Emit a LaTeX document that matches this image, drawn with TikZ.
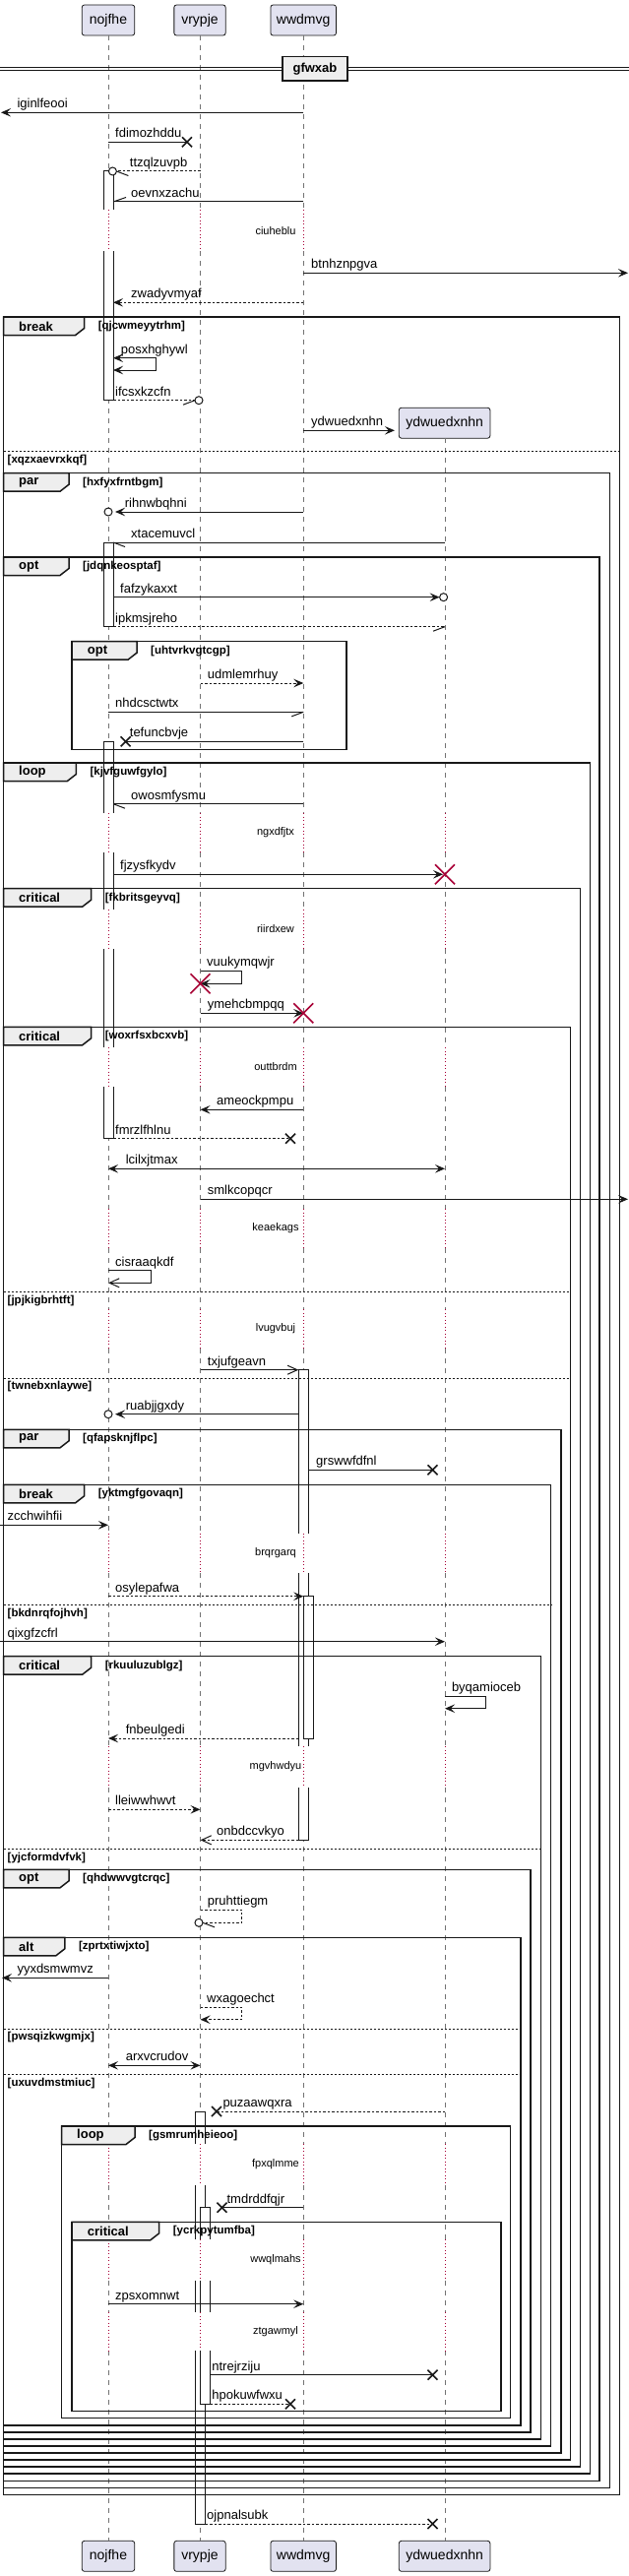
\documentclass[tikz,border=0pt]{standalone}
\usepackage{fontspec}
\setmainfont{Liberation Sans}
\usetikzlibrary{arrows.meta}
\definecolor{ln}{HTML}{181818}
\definecolor{pbg}{HTML}{E2E2F0}
\definecolor{tabbg}{HTML}{EEEEEE}
\definecolor{dly}{HTML}{A80036}
\newcommand\Msg[7]{%
  \coordinate (#1a) at (#2,#4);
  \coordinate (#1b) at (#3,#4);
  \draw[#5] (#1a) -- (#1b);
  \node[mt] (#1t) at (#6,#4-4.5) {#7};}
\newcommand\SMsg[8]{%
  \coordinate (#1a) at (#2,#4);
  \coordinate (#1b) at (#3,#4);
  \coordinate (#1c) at (#3,#5);
  \coordinate (#1d) at (#2,#5);
  \draw[#6] (#1a) -- (#1b) -- (#1c) -- (#1d);
  \node[mt] (#1t) at (#7,#4-4.5) {#8};}
\newcommand\LostX[2]{\draw[xm] (#1-5,#2-5) -- (#1+5,#2+5) (#1-5,#2+5) -- (#1+5,#2-5);}
\newcommand\DestX[2]{\draw[rx] (#1-10,#2-10) -- (#1+10,#2+10) (#1-10,#2+10) -- (#1+10,#2-10);}
\newcommand\Circ[2]{\draw[circ] (#1,#2) circle[radius=4pt];}
\newcommand\Half[4]{\draw[ml] (#1,#2) -- ++(#3,#4);}
\newcommand\Frm[8]{%
  \draw[fr] (#1,#2) rectangle (#3,#4);
  \draw[fr,fill=tabbg] (#1,#2) -- (#5,#2) -- (#5,#2+11.5) -- (#5-9,#2+18.5) -- (#1,#2+18.5) -- cycle;
  \node[kw] (#8k) at (#1+15.5,#2+9.5) {#6};
  \node[gd] (#8g) at (#5+14,#2+9.5) {#7};}
\newcommand\Els[5]{\draw[esep] (#1,#3) -- (#2,#3); \node[gd] (#5) at (#1+4,#3+9) {#4};}
\newcommand\BarC[4]{\draw[bar] (#1,#3) rectangle (#2,#4);}
\newcommand\BarT[4]{\fill[white] (#1,#3) rectangle (#2,#4); \draw[ln,line width=1pt] (#1,#4) -- (#1,#3) -- (#2,#3) -- (#2,#4);}
\newcommand\BarB[4]{\fill[white] (#1,#3) rectangle (#2,#4); \draw[ln,line width=1pt] (#1,#3) -- (#1,#4) -- (#2,#4) -- (#2,#3);}
\newcommand\BarO[4]{\fill[white] (#1,#3) rectangle (#2,#4); \draw[ln,line width=1pt] (#1,#3) -- (#1,#4) (#2,#3) -- (#2,#4);}
\begin{document}
\begin{tikzpicture}[x=1pt,y=-1pt,
  life/.style={draw=black!55, line width=0.8pt, dash pattern=on 5pt off 5pt},
  dlyl/.style={draw=dly, line width=0.9pt, dash pattern=on 0.9pt off 2.6pt},
  ml/.style={draw=ln, line width=1pt},
  dl/.style={draw=ln, line width=1pt, dash pattern=on 2.5pt off 2pt},
  fa/.style={-{Stealth[length=10pt,width=8.5pt,inset=4pt]}},
  ba/.style={{Stealth[length=10pt,width=8.5pt,inset=4pt]}-{Stealth[length=10pt,width=8.5pt,inset=4pt]}},
  oa/.style={-{Straight Barb[length=10pt,width=9pt]}},
  mt/.style={font=\fontsize{13}{15}\selectfont, inner sep=0pt, anchor=base west},
  dt/.style={font=\fontsize{11}{13}\selectfont, inner sep=0pt},
  gd/.style={font=\bfseries\fontsize{11.5}{13}\selectfont, inner sep=0pt, anchor=west},
  kw/.style={font=\bfseries\fontsize{13}{15}\selectfont, inner sep=0pt, anchor=west},
  fr/.style={draw=ln, line width=1.5pt},
  esep/.style={draw=ln, line width=1pt, dash pattern=on 2pt off 2pt},
  bar/.style={fill=white, draw=ln, line width=1pt},
  xm/.style={draw=ln, line width=1.6pt},
  rx/.style={draw=dly, line width=1.6pt},
  circ/.style={draw=ln, line width=1pt, fill=white},
  part/.style={draw=ln, line width=0.8pt, fill=pbg, rounded corners=2.5pt, minimum height=31pt, inner sep=0pt, font=\fontsize{14}{16}\selectfont},
]
\useasboundingbox[fill=white] (0,0) rectangle (639,2617);

% participants
\node[part, minimum width=53.5pt] (nojT) at (110,20.5) {nojfhe};
\node[part, minimum width=52.3pt] (vryT) at (203,20.5) {vrypje};
\node[part, minimum width=66.6pt] (wwdT) at (308.2,20.5) {wwdmvg};
\node[part, minimum width=53.5pt] (nojB) at (110,2596.8) {nojfhe};
\node[part, minimum width=52.3pt] (vryB) at (203,2596.8) {vrypje};
\node[part, minimum width=66.6pt] (wwdB) at (308.2,2596.8) {wwdmvg};
\node[part, minimum width=92.6pt] (ydwB) at (451.6,2596.8) {ydwuedxnhn};
\node[part, minimum width=92.6pt] (ydwC) at (451.6,429.7) {ydwuedxnhn};

% lifelines
\foreach \lx in {110,203.5,308.3} {
  \foreach \a/\b in {36/213,255/826,866/924,964/1064,1104/1228,1268/1330,1370/1557.7,1598.3/1774,1816/2178,2220/2275,2316.7/2349,2388.3/2581}
    \draw[life] (\lx,\a) -- (\lx,\b);
  \foreach \a/\b in {213/255,826/866,924/964,1064/1104,1228/1268,1330/1370,1557.7/1598.3,1774/1816,2178/2220,2275/2316.7,2349/2388.3}
    \draw[dlyl] (\lx,\a) -- (\lx,\b);
}
\foreach \a/\b in {445/826,866/924,964/1064,1104/1228,1268/1330,1370/1557.7,1598.3/1774,1816/2178,2220/2275,2316.7/2349,2388.3/2581}
  \draw[life] (452,\a) -- (452,\b);
\foreach \a/\b in {826/866,924/964,1064/1104,1228/1268,1330/1370,1557.7/1598.3,1774/1816,2178/2220,2275/2316.7,2349/2388.3}
  \draw[dlyl] (452,\a) -- (452,\b);

% divider
\draw[ln, line width=1pt] (0,68.3) -- (639,68.3) (0,71.7) -- (639,71.7);
\node[draw=ln, line width=1.8pt, fill=tabbg, minimum width=66pt, minimum height=24.5pt, inner sep=0pt, font=\bfseries\fontsize{13}{15}\selectfont] (div) at (320,69.7) {gfwxab};

% activation bars
\BarT{105}{115}{174}{213}
\BarB{105}{115}{255}{406.7}
\BarC{105}{115}{551}{636.7}
\BarT{105}{115}{753.3}{826}
\BarO{105}{115}{866}{924}
\BarO{105}{115}{964}{1064}
\BarB{105}{115}{1104}{1156.7}
\BarT{303.3}{313.3}{1391.7}{1557.7}
\BarO{303.3}{313.3}{1598.3}{1774}
\BarB{303.3}{313.3}{1816}{1869.3}
\BarC{308.3}{318.3}{1621.7}{1766}
\BarT{198.5}{208.5}{2145}{2178}
\BarO{198.5}{208.5}{2220}{2275}
\BarO{198.5}{208.5}{2316.7}{2349}
\BarB{198.5}{208.5}{2388.3}{2564}
\BarT{203.5}{213.5}{2242.7}{2275}
\BarO{203.5}{213.5}{2316.7}{2349}
\BarB{203.5}{213.5}{2388.3}{2442.3}

% frames
\Frm{3.5}{322}{629.6}{2534.3}{85.6}{break}{[qjcwmeyytrhm]}{f1}
\Els{3.5}{629.6}{458.3}{[xqzxaevrxkqf]}{f1e1}
\Frm{3.5}{480.7}{619.3}{2527.3}{70}{par}{[hxfyxfrntbgm]}{f2}
\Frm{3.5}{566}{609}{2520.3}{70}{opt}{[jdqnkeosptaf]}{f3}
\Frm{73.2}{651.7}{351.8}{761.7}{139}{opt}{[uhtvrkvgtcgp]}{f4}
\Frm{3.5}{775}{599.5}{2513.2}{77.4}{loop}{[kjvfguwfgylo]}{f5}
\Frm{3.5}{902.7}{589.7}{2506.2}{92.6}{critical}{[fkbritsgeyvq]}{f6}
\Frm{3.5}{1043.3}{579.4}{2499.2}{92.6}{critical}{[woxrfsxbcxvb]}{f7}
\Els{3.5}{579.4}{1312.7}{[jpjkigbrhtft]}{f7e1}
\Els{3.5}{579.4}{1400}{[twnebxnlaywe]}{f7e2}
\Frm{3.5}{1452.3}{570}{2492.1}{70}{par}{[qfapsknjflpc]}{f8}
\Frm{3.5}{1508.3}{559.6}{2485.1}{85.6}{break}{[yktmgfgovaqn]}{f9}
\Els{3.5}{559.6}{1630.3}{[bkdnrqfojhvh]}{f9e1}
\Frm{3.5}{1682.7}{549.3}{2478}{92.6}{critical}{[rkuuluzublgz]}{f10}
\Els{3.5}{549.3}{1878.3}{[yjcformdvfvk]}{f10e1}
\Frm{3.5}{1899.3}{539}{2471}{70}{opt}{[qhdwwvgtcrqc]}{f11}
\Frm{3.5}{1968.3}{528.8}{2464}{65.8}{alt}{[zprtxtiwjxto]}{f12}
\Els{3.5}{528.8}{2061}{[pwsqizkwgmjx]}{f12e1}
\Els{3.5}{528.8}{2107.7}{[uxuvdmstmiuc]}{f12e2}
\Frm{62.5}{2160}{518.5}{2456.7}{137}{loop}{[gsmrumheieoo]}{f13}
\Frm{73.2}{2257.3}{509}{2449.3}{161.7}{critical}{[ycrkpytumfba]}{f14}

% delays
\node[dt] (d1) at (280,235) {ciuheblu};
\node[dt] (d2) at (280,846) {ngxdfjtx};
\node[dt] (d3) at (280,944) {riirdxew};
\node[dt] (d4) at (280,1084) {outtbrdm};
\node[dt] (d5) at (280,1248) {keaekags};
\node[dt] (d6) at (280,1350) {lvugvbuj};
\node[dt] (d7) at (280,1578) {brqrgarq};
\node[dt] (d8) at (280,1795) {mgvhwdyu};
\node[dt] (d9) at (280,2199) {fpxqlmme};
\node[dt] (d10) at (280,2296) {wwqlmahs};
\node[dt] (d11) at (280,2369) {ztgawmyl};

% messages
\Msg{m1}{308.3}{1}{114.3}{ml,fa}{17.3}{iginlfeooi}
\Msg{m2}{110}{190}{144.3}{ml}{117}{fdimozhddu}\LostX{190}{144.3}
\Msg{m3}{203.5}{118.4}{174}{dl}{131.7}{ttzqlzuvpb}\Circ{114.4}{174}\Half{118.4}{174}{12}{4.5}
\Msg{m4}{308.3}{115}{205}{ml}{133}{oevnxzachu}\Half{115}{205}{13}{-4.5}
\Msg{m5}{308.3}{638}{277.3}{ml,fa}{316}{btnhznpgva}
\Msg{m6}{308.3}{115}{307.3}{dl,fa}{133}{zwadyvmyaf}
\SMsg{m7}{115}{158}{363.7}{376}{ml,ba}{122.6}{posxhghywl}
\Msg{m8}{115}{198}{406.7}{dl}{117}{ifcsxkzcfn}\Circ{202}{406.7}\Half{198}{406.7}{-12}{4.5}
\coordinate (m9a) at (308.3,437.3);
\draw[ml,fa] (m9a) -- ([xshift=-4pt]m9a -| ydwC.west);
\node[mt] (m9t) at (316,437.3-4.5) {ydwuedxnhn};
\Msg{m10}{308.3}{117}{520}{ml,fa}{126.7}{rihnwbqhni}\Circ{110}{520}
\Msg{m11}{452}{115}{551}{ml}{133}{xtacemuvcl}\Half{115}{551}{12}{4.5}
\Msg{m12}{115}{446.6}{606.7}{ml,fa}{122}{fafzykaxxt}\Circ{450.6}{606.7}
\Msg{m13}{115}{452}{636.7}{dl}{117}{ipkmsjreho}\Half{452}{636.7}{-12}{4.5}
\Msg{m14}{203.5}{308.3}{694}{dl,fa}{210.7}{udmlemrhuy}
\Msg{m15}{110}{308.3}{723.3}{ml}{117}{nhdcsctwtx}\Half{308.3}{723.3}{-12}{4.5}
\Msg{m16}{308.3}{127.6}{753.3}{ml}{131.7}{tefuncbvje}\LostX{127.6}{753.3}
\Msg{m17}{308.3}{115}{816.7}{ml}{133}{owosmfysmu}\Half{115}{816.7}{12}{4.5}
\Msg{m18}{115}{450}{888.3}{ml,fa}{122}{fjzysfkydv}\DestX{452}{888.3}
\SMsg{m19}{203.5}{245.7}{986}{999.3}{ml,fa}{210}{vuukymqwjr}\DestX{203.5}{999.3}
\Msg{m20}{203.5}{308.3}{1029.3}{ml,fa}{210.7}{ymehcbmpqq}\DestX{308.3}{1029.3}
\Msg{m21}{308.3}{203.5}{1127.3}{ml,fa}{220}{ameockpmpu}
\Msg{m22}{115}{295}{1156.7}{dl}{117}{fmrzlfhlnu}\LostX{295}{1156.7}
\Msg{m23}{110}{452}{1187.3}{ml,ba}{127.6}{lcilxjtmax}
\Msg{m24}{203.5}{638}{1218.3}{ml,fa}{210.7}{smlkcopqcr}
\SMsg{m25}{110}{153}{1290.7}{1303.3}{ml,oa}{117}{cisraaqkdf}
\Msg{m26}{203.5}{303.3}{1391.7}{ml,oa}{210.7}{txjufgeavn}
\Msg{m27}{303.3}{117}{1436.7}{ml,fa}{127.6}{ruabjjgxdy}\Circ{110}{1436.7}
\Msg{m28}{313.3}{439.5}{1493.3}{ml}{321}{grswwfdfnl}\LostX{439.5}{1493.3}
\Msg{m29}{0}{110}{1549.3}{ml,fa}{7.4}{zcchwihfii}
\Msg{m30}{110}{308.3}{1621.7}{dl,fa}{117}{osylepafwa}
\Msg{m31}{0}{452}{1667.7}{ml,fa}{7.4}{qixgfzcfrl}
\SMsg{m32}{452}{493.8}{1723.3}{1735.7}{ml,fa}{458.8}{byqamioceb}
\Msg{m33}{303.3}{110}{1766}{dl,fa}{127.6}{fnbeulgedi}
\Msg{m34}{110}{203.5}{1838.3}{dl,fa}{117}{lleiwwhwvt}
\Msg{m35}{303.3}{203.5}{1869.3}{dl,oa}{220}{onbdccvkyo}
\coordinate (m36a) at (203.5,1940);
\coordinate (m36b) at (245.7,1940);
\coordinate (m36c) at (245.7,1953.3);
\coordinate (m36d) at (206,1953.3);
\draw[dl] (m36a) -- (m36b) -- (m36c) -- (m36d);
\node[mt] (m36t) at (210.7,1940-4.5) {pruhttiegm};
\Circ{202}{1953.3}\Half{206}{1953.3}{12}{4.5}
\Msg{m37}{110}{2}{2009.3}{ml,fa}{17.3}{yyxdsmwmvz}
\SMsg{m38}{203.5}{245.7}{2039.3}{2051.7}{dl,fa}{210}{wxagoechct}
\Msg{m39}{110}{203.5}{2098.3}{ml,ba}{127.6}{arxvcrudov}
\Msg{m40}{452}{220}{2145}{dl}{226.3}{puzaawqxra}\LostX{220}{2145}
\Msg{m41}{308.3}{225.5}{2242.7}{ml}{230.4}{tmdrddfqjr}\LostX{225.5}{2242.7}
\Msg{m42}{110}{308.3}{2340.7}{ml,fa}{117}{zpsxomnwt}
\Msg{m43}{213.5}{439.5}{2412.7}{ml}{215.2}{ntrejrziju}\LostX{439.5}{2412.7}
\Msg{m44}{213.5}{295}{2442.3}{dl}{215.2}{hpokuwfwxu}\LostX{295}{2442.3}
\Msg{m45}{208.5}{439.5}{2564}{dl}{210}{ojpnalsubk}\LostX{439.5}{2564}
\end{tikzpicture}
\end{document}
